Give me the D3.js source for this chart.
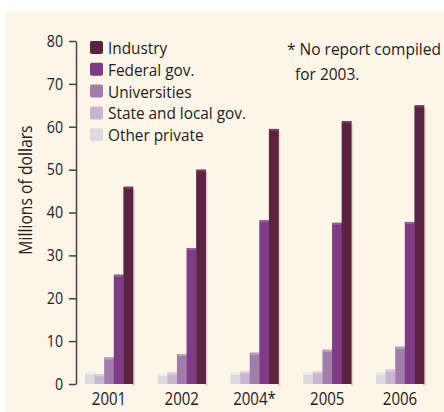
<!DOCTYPE html>
<html><head><meta charset="utf-8">
<script src="https://cdn.jsdelivr.net/npm/d3@7"></script>
<style>body{margin:0;background:#fff}svg{display:block}text{font-family:"Open Sans",sans-serif;fill:#222}</style>
</head><body><svg id="c" width="444" height="412"></svg>
<script>
const years = ["2001","2002","2004*","2005","2006"];
const seriesNames = ["Other private","State and local gov.","Universities","Federal gov.","Industry"];
const otherPrivate = [2.7, 2.3, 2.6, 2.6, 2.7];
const stateLocal = [2.3, 2.7, 2.9, 2.9, 3.4];
const universities = [6.2, 7.0, 7.3, 8.0, 8.7];
const federal = [25.5, 31.7, 38.2, 37.6, 37.8];
const industry = [46.0, 50.0, 59.5, 61.3, 65.0];
const yTicks = [0,10,20,30,40,50,60,70,80];
const colors = ["#dcdcdf","#c8b6d0","#a27dab","#7f3b85","#5b2241"];
const capColors = ["#eeeef0","#ddd0e2","#bfa3c6","#9c5ea1","#7a3e5e"];
const legendOrder = [4,3,2,1,0];
const SX = 0.86;

const seriesVals = [otherPrivate, stateLocal, universities, federal, industry];
const svg = d3.select("#c");
svg.append("rect").attr("x",6).attr("y",11).attr("width",438).attr("height",401).attr("fill","#fdf5e7");

function label(x0, y0, str, size, anchor, rot, sx){
  return svg.append("text")
    .attr("transform",`translate(${x0},${y0})${rot?` rotate(${rot})`:""} scale(${sx||SX},1)`)
    .attr("text-anchor",anchor||"start").attr("font-size",size).text(str);
}

const x = d3.scaleBand().domain(years).range([72.6,436.4]).paddingInner(0.34).paddingOuter(0.17);
const xs = d3.scaleBand().domain(d3.range(5)).range([0,x.bandwidth()]);
const y = d3.scaleLinear().domain([0,80]).range([384,41]);

// axis
const ax = svg.append("g").attr("transform","translate(76,0)")
  .call(d3.axisLeft(y).tickValues(yTicks).tickSize(7).tickSizeOuter(0).tickPadding(5));
ax.select(".domain").attr("stroke","#444").attr("stroke-width",1.5);
ax.selectAll(".tick line").attr("stroke","#444").attr("stroke-width",1.5);
ax.selectAll(".tick text").attr("font-size",16.5).attr("fill","#222")
  .attr("font-family","Open Sans, sans-serif")
  .attr("x",-13/SX).attr("transform",`scale(${SX},1)`);

label(32,190,"Millions of dollars",17.5,"middle",-90,0.9);

// bars
years.forEach((yr,i)=>{
  const g = svg.append("g").attr("transform",`translate(${x(yr)},0)`);
  g.append("rect").attr("x",x.bandwidth()-1).attr("y",y(industry[i])+3).attr("width",3)
    .attr("height",y(0)-y(industry[i])-1).attr("fill","#c9b9b0").attr("opacity",0.45);
  seriesVals.forEach((vals,s)=>{
    const bx = xs(s), bw = xs.bandwidth()+0.3, top = y(vals[i]);
    g.append("rect").attr("x",bx).attr("y",top).attr("width",bw).attr("height",y(0)-top).attr("fill",colors[s]);
    g.append("path").attr("d",`M${bx},${top+2}L${bx+2},${top}L${bx+bw},${top}L${bx+bw-1},${top+2}Z`).attr("fill",capColors[s]);
  });
});

// x labels
years.forEach(d=>label(x(d)+x.bandwidth()/2,405,d,17.5,"middle"));

// legend
legendOrder.forEach((s,k)=>{
  const ly = 41 + k*21.8;
  svg.append("rect").attr("x",90).attr("y",ly).attr("width",13).attr("height",13).attr("rx",2).attr("fill",colors[s]);
  label(108,ly+13,seriesNames[s],16,"start",0,0.96);
});

label(287,55,"* No report compiled",16.5,"start",0,0.94);
label(295,80,"for 2003.",16.5,"start",0,0.94);
</script></body></html>
